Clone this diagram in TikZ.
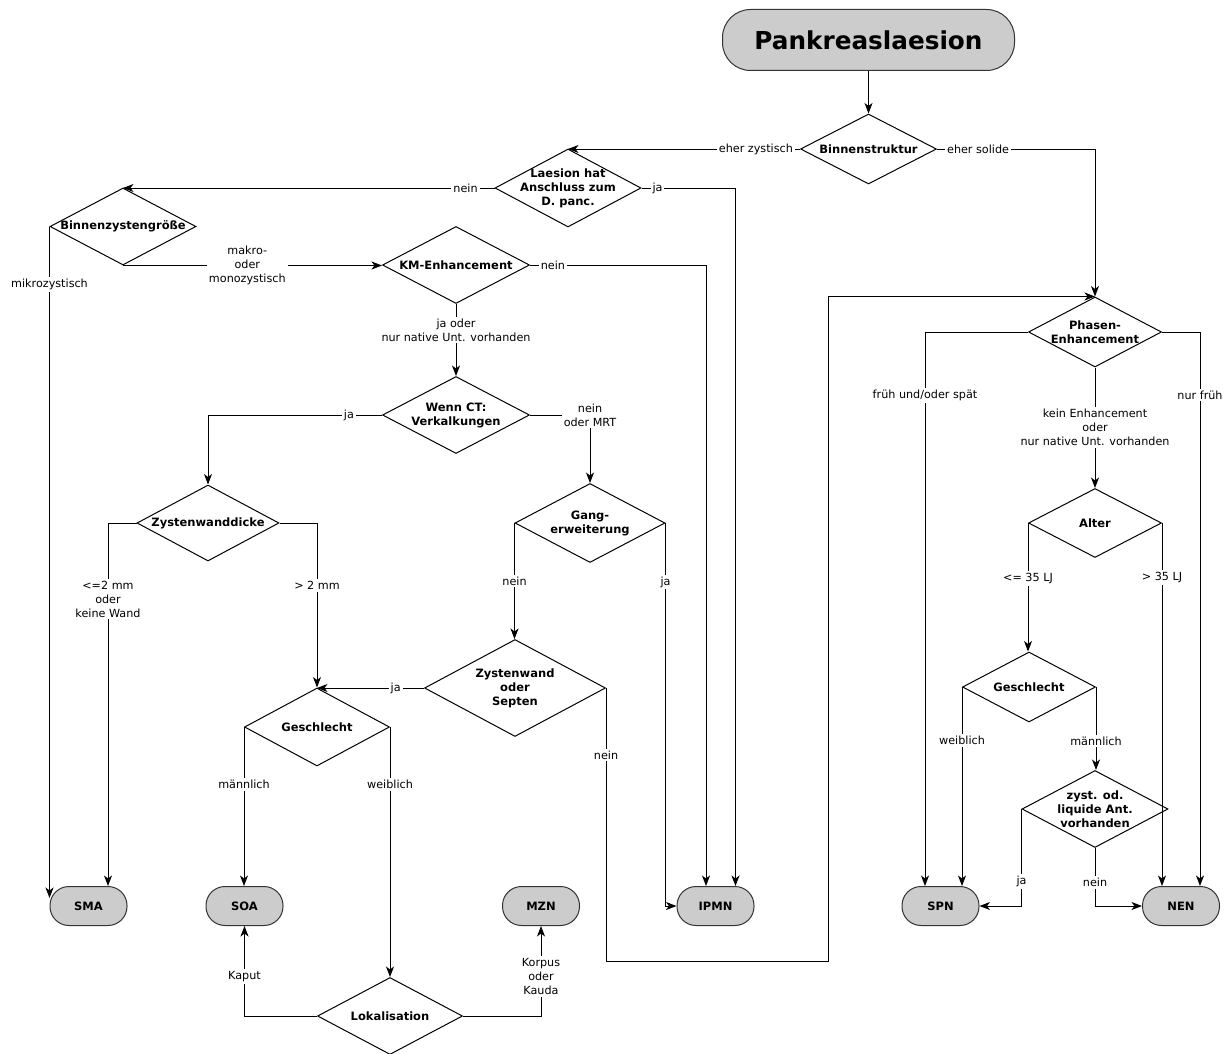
\documentclass[tikz,border=0pt]{standalone}
\usepackage{fontspec}
\setmainfont{DejaVu Sans}
\usepackage{tikz}
\usetikzlibrary{shapes.geometric, arrows.meta}

\newcommand{\lblfont}{\fontsize{11.2}{14}\selectfont}
\newcommand{\decfont}{\fontsize{11.5}{14}\selectfont\bfseries}
\newcommand{\titfont}{\fontsize{24.7}{30}\selectfont\bfseries}

\tikzset{
  dec/.style 2 args={diamond, draw, inner sep=0pt, minimum width=#1pt, minimum height=#2pt},
  dtxt/.style={font=\decfont, align=center, inner sep=0pt},
  term/.style={draw=black!80, fill=gray!40, rounded corners=19pt, minimum width=77pt, minimum height=39pt, inner sep=0pt, font=\decfont},
  lbl/.style={fill=white, inner sep=2pt, align=center, font=\lblfont},
  arr/.style={-{Stealth[length=10.5pt, width=8pt, inset=3pt]}},
}

\begin{document}
\begin{tikzpicture}[x=1pt, y=-1pt, line width=1pt]
  \useasboundingbox (0,0) rectangle (1231,1054);

  % Nodes
  \node[term, rounded corners=28pt, minimum width=292pt, minimum height=61pt, font=\titfont] (tit) at (868.5,40) {Pankreaslaesion};
  \node[dec={136}{70}, label={[dtxt]center:Binnenstruktur}] (bin) at (868.5,149) {};
  \node[dec={146}{78}, label={[dtxt]center:{Laesion hat\\Anschluss zum\\D. panc.}}] (lae) at (568,188) {};
  \node[dec={146}{77}, label={[dtxt]center:Binnenzystengröße}] (bzg) at (123,226.5) {};
  \node[dec={147}{77}, label={[dtxt]center:KM-Enhancement}] (kme) at (456,265) {};
  \node[dec={147}{77}, label={[dtxt]center:{Wenn CT:\\Verkalkungen}}] (wct) at (456,415) {};
  \node[dec={142}{76}, label={[dtxt]center:Zystenwanddicke}] (zwd) at (208,523) {};
  \node[dec={150}{79}, label={[dtxt]center:{Gang-\\erweiterung}}] (gang) at (590,523) {};
  \node[dec={181}{97}, label={[dtxt]center:{Zystenwand\\oder\\Septen}}] (zws) at (515,688) {};
  \node[dec={145}{78}, label={[dtxt]center:Geschlecht}] (ges1) at (317,727) {};
  \node[dec={145}{77}, label={[dtxt]center:Lokalisation}] (lok) at (390,1016) {};

  \node[dec={133}{70}, label={[dtxt]center:{Phasen-\\Enhancement}}] (phe) at (1095,332) {};
  \node[dec={133}{69}, label={[dtxt]center:Alter}] (alt) at (1095,523) {};
  \node[dec={133}{70}, label={[dtxt]center:Geschlecht}] (ges2) at (1029,687) {};
  \node[dec={146}{77}, label={[dtxt]center:{zyst. od.\\liquide Ant.\\vorhanden}}] (zys) at (1095,809) {};

  \node[term] (sma) at (88.5,906) {SMA};
  \node[term] (soa) at (244.5,906) {SOA};
  \node[term] (mzn) at (541,906) {MZN};
  \node[term] (ipmn) at (715.5,906) {IPMN};
  \node[term] (spn) at (940.5,906) {SPN};
  \node[term] (nen) at (1181,906) {NEN};

  \coordinate (ipmnR) at ([xshift=20pt]ipmn.north);
  \coordinate (ipmnL) at ([xshift=-9.5pt]ipmn.north);
  \coordinate (smaR) at ([xshift=19.5pt]sma.north);
  \coordinate (smaL) at ([yshift=8pt]sma.west);
  \coordinate (spnL) at ([xshift=-15.5pt]spn.north);
  \coordinate (nenR) at ([xshift=19pt]nen.north);
  \coordinate (bend) at (828,961);

  % Edges
  \draw[arr] (tit) -- (bin);
  \draw[arr] (bin.west) -- node[lbl, pos=0.19] {eher zystisch} (bin.west -| lae.north);
  \draw[arr] (bin.east) -- node[lbl, pos=0.26] {eher solide} (bin.east -| phe.north) -- (phe.north);

  \draw[arr] (lae.west) -- node[lbl, pos=0.078] {nein} (lae.west -| bzg.north);
  \draw[arr] (lae.east) -- node[lbl, pos=0.17] {ja} (lae.east -| ipmnR) -- (ipmnR);

  \draw[arr] (bzg.west) -- node[lbl, pos=0.086] {mikrozystisch} (smaL);
  \draw[arr] (bzg.south) -- node[lbl, pos=0.48] {makro-\\oder\\monozystisch} (bzg.south -| kme.west);

  \draw[arr] (kme.east) -- node[lbl, pos=0.13] {nein} (kme.east -| ipmnL) -- (ipmnL);
  \draw[arr] (kme.south) -- node[lbl, pos=0.36] {ja oder\\nur native Unt. vorhanden} (wct.north);

  \draw[arr] (wct.west) -- node[lbl, pos=0.19] {ja} (wct.west -| zwd.north) -- (zwd.north);
  \draw[arr] (wct.east) -- (wct.east -| gang.north) node[lbl] {nein\\oder MRT} -- (gang.north);

  \draw[arr] (zwd.west) -- (zwd.west -| smaR) -- node[lbl, pos=0.21] {<=2 mm\\oder\\keine Wand} (smaR);
  \draw[arr] (zwd.east) -- (zwd.east -| ges1.north) -- node[lbl, pos=0.38] {> 2 mm} (ges1.north);

  \draw[arr] (gang.west) -- node[lbl, pos=0.5] {nein} (gang.west |- zws.north);
  \draw[arr] (gang.east) -- node[lbl, pos=0.154] {ja} (gang.east |- ipmn.west) -- (ipmn.west);

  \draw[arr] (zws.west) -- node[lbl, pos=0.265] {ja} (zws.west -| ges1.north);
  \draw[arr] (zws.east) -- node[lbl, pos=0.245] {nein} (zws.east |- bend) -- (bend) -- (bend |- phe.north) -- (phe.north);

  \draw[arr] (ges1.west) -- node[lbl, pos=0.36] {männlich} (ges1.west |- soa.north);
  \draw[arr] (ges1.east) -- node[lbl, pos=0.23] {weiblich} (ges1.east |- lok.north);
  \draw[arr] (lok.west) -- (lok.west -| soa.south) -- node[lbl, pos=0.44] {Kaput} (soa.south);
  \draw[arr] (lok.east) -- (lok.east -| mzn.south) -- node[lbl, pos=0.44] {Korpus\\oder\\Kauda} (mzn.south);

  \draw[arr] (phe.west) -- (phe.west -| spnL) -- node[lbl, pos=0.114] {früh und/oder spät} (spnL);
  \draw[arr] (phe.east) -- (phe.east -| nenR) -- node[lbl, pos=0.114] {nur früh} (nenR);
  \draw[arr] (phe.south) -- node[lbl, pos=0.5] {kein Enhancement\\oder\\nur native Unt. vorhanden} (alt.north);

  \draw[arr] (alt.west) -- node[lbl, pos=0.43] {<= 35 LJ} (alt.west |- ges2.north);
  \draw[arr] (alt.east) -- node[lbl, pos=0.15] {> 35 LJ} (alt.east |- nen.north);
  \draw[arr] (ges2.west) -- node[lbl, pos=0.27] {weiblich} (ges2.west |- spn.north);
  \draw[arr] (ges2.east) -- node[lbl, pos=0.65] {männlich} (ges2.east |- zys.north);
  \draw[arr] (zys.west) -- node[lbl, pos=0.75] {ja} (zys.west |- spn.east) -- (spn.east);
  \draw[arr] (zys.south) -- node[lbl, pos=0.59] {nein} (zys.south |- nen.west) -- (nen.west);
\end{tikzpicture}
\end{document}
